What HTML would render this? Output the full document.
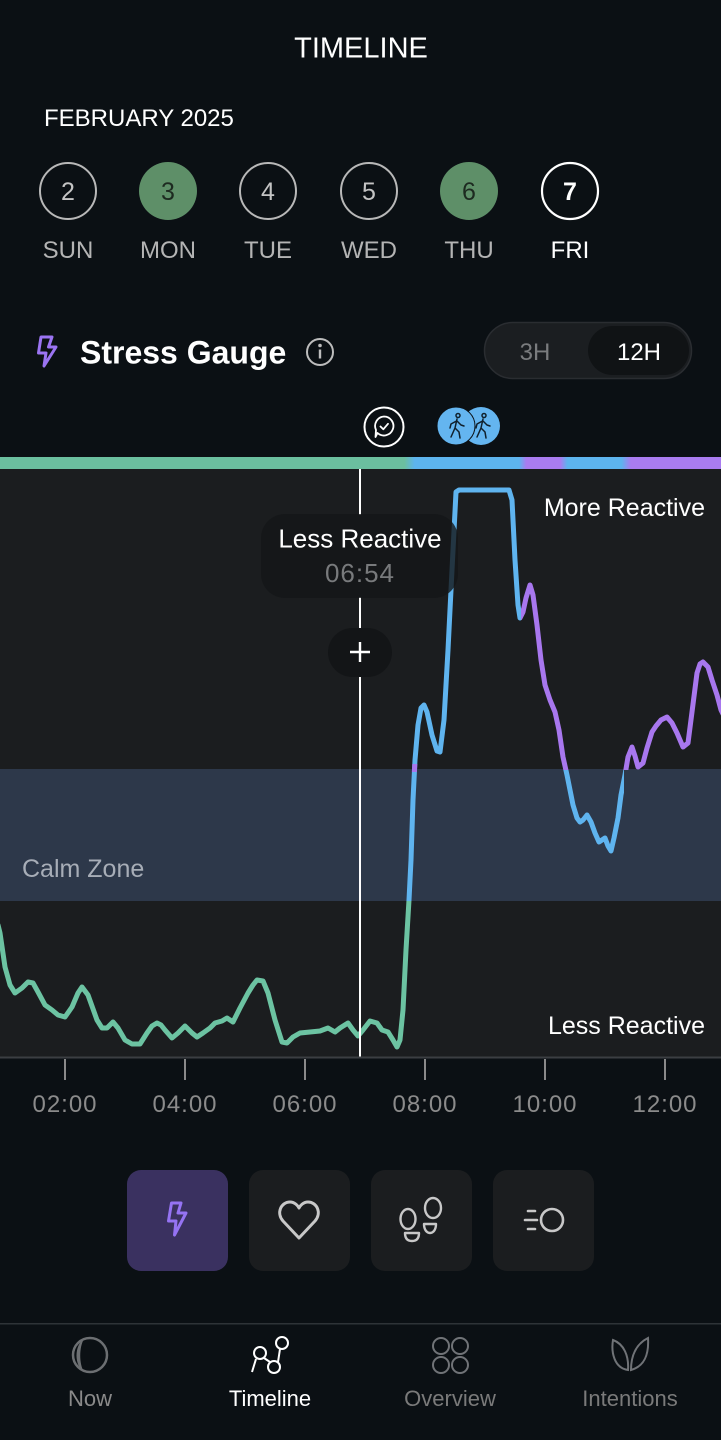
<!DOCTYPE html>
<html><head><meta charset="utf-8"><style>
html,body{margin:0;padding:0;background:#0b1014;}
body{width:721px;height:1440px;overflow:hidden;}
svg{display:block;}
text{font-family:"Liberation Sans",sans-serif;}
</style></head><body>
<svg width="721" height="1440" viewBox="0 0 721 1440" xmlns="http://www.w3.org/2000/svg">
<defs>
<linearGradient id="bar" x1="0" y1="0" x2="721" y2="0" gradientUnits="userSpaceOnUse">
<stop offset="0" stop-color="#6bbf9f"/><stop offset="0.561" stop-color="#6bbf9f"/>
<stop offset="0.575" stop-color="#5db4ee"/><stop offset="0.72" stop-color="#5db4ee"/>
<stop offset="0.73" stop-color="#a97cf0"/><stop offset="0.777" stop-color="#a97cf0"/>
<stop offset="0.787" stop-color="#5db4ee"/><stop offset="0.862" stop-color="#5db4ee"/>
<stop offset="0.875" stop-color="#a97cf0"/><stop offset="1" stop-color="#a97cf0"/>
</linearGradient>
<clipPath id="cg"><rect x="0" y="901" width="721" height="200"/></clipPath>
<clipPath id="cb"><rect x="0" y="0" width="521" height="901"/><rect x="560" y="770" width="64" height="131"/></clipPath>
<clipPath id="cp"><rect x="521" y="0" width="200" height="770"/><rect x="408" y="764" width="10" height="8"/></clipPath>
<path id="ln" d="M-2 925 L0 933 L5 967 L10 985 L15 993 L22 988 L28 982 L33 983 L38 992 L45 1005 L52 1010 L58 1015 L65 1017 L72 1007 L78 993 L82 987 L88 995 L97 1020 L102 1028 L107 1028 L113 1022 L118 1028 L125 1040 L132 1044 L140 1044 L147 1033 L152 1026 L157 1023 L161 1025 L165 1030 L172 1038 L178 1033 L185 1026 L192 1033 L197 1037 L203 1033 L210 1028 L215 1023 L222 1021 L227 1018 L233 1022 L240 1008 L248 993 L253 985 L257 980 L263 981 L268 993 L275 1020 L282 1042 L287 1043 L293 1037 L300 1033 L310 1032 L320 1031 L328 1028 L335 1032 L340 1028 L348 1023 L353 1030 L358 1036 L363 1030 L370 1021 L377 1023 L382 1030 L388 1032 L393 1040 L397 1047 L400 1040 L403 1010 L406 950 L409 900 L411 860 L413 800 L415 760 L418 725 L421 708 L424 705 L427 712 L432 735 L437 751 L440 752 L444 720 L448 650 L452 570 L456 492 L459 490 L509 490 L512 500 L515 560 L518 605 L520 618 L523 612 L526 598 L530 585 L533 595 L537 625 L541 660 L545 685 L550 700 L555 712 L559 730 L563 757 L567 775 L570 790 L573 805 L577 818 L580 822 L583 820 L587 815 L591 822 L595 833 L599 842 L602 840 L605 838 L608 846 L611 851 L614 838 L618 818 L621 795 L625 775 L628 757 L632 747 L635 756 L638 767 L643 763 L647 748 L652 732 L656 726 L661 720 L667 717 L672 723 L677 733 L683 747 L688 743 L692 712 L697 673 L700 664 L703 662 L708 667 L712 680 L717 695 L721 710 L724 716"/>
</defs>

<!-- header -->
<text x="361" y="57.5" font-size="29" fill="#ffffff" text-anchor="middle">TIMELINE</text>
<text x="44" y="126" font-size="24" fill="#ffffff">FEBRUARY 2025</text>

<!-- days -->
<g font-size="25" text-anchor="middle">
<circle cx="68" cy="191" r="28" fill="none" stroke="#b8b8b8" stroke-width="2"/>
<text x="68" y="200" fill="#c4c4c4">2</text>
<circle cx="168" cy="191" r="29" fill="#5e8f68"/>
<text x="168" y="200" fill="#1d2a20">3</text>
<circle cx="268" cy="191" r="28" fill="none" stroke="#b8b8b8" stroke-width="2"/>
<text x="268" y="200" fill="#c4c4c4">4</text>
<circle cx="369" cy="191" r="28" fill="none" stroke="#b8b8b8" stroke-width="2"/>
<text x="369" y="200" fill="#c4c4c4">5</text>
<circle cx="469" cy="191" r="29" fill="#5e8f68"/>
<text x="469" y="200" fill="#1d2a20">6</text>
<circle cx="570" cy="191" r="28" fill="none" stroke="#ffffff" stroke-width="2.2"/>
<text x="570" y="200" fill="#ffffff" font-weight="bold">7</text>
</g>
<g font-size="24" text-anchor="middle">
<text x="68" y="258" fill="#b4b4b4">SUN</text>
<text x="168" y="258" fill="#b4b4b4">MON</text>
<text x="268" y="258" fill="#b4b4b4">TUE</text>
<text x="369" y="258" fill="#b4b4b4">WED</text>
<text x="469" y="258" fill="#b4b4b4">THU</text>
<text x="570" y="258" fill="#ffffff">FRI</text>
</g>

<!-- stress gauge title -->
<path d="M41 337 L52 337 L48.5 347 L56 347 L44 366 L46 353 L38.5 353 Z" fill="none" stroke="#9b74f2" stroke-width="3" stroke-linejoin="round"/>
<text x="80" y="363.5" font-size="32" font-weight="bold" fill="#ffffff">Stress Gauge</text>
<circle cx="320" cy="352" r="13" fill="none" stroke="#bdbdbd" stroke-width="2"/>
<circle cx="320" cy="345.5" r="1.8" fill="#bdbdbd"/>
<rect x="318.8" y="349.5" width="2.4" height="9" fill="#bdbdbd"/>

<!-- toggle -->
<rect x="484.5" y="322.5" width="207" height="56" rx="28" fill="#1b1e21" stroke="#2a2d31" stroke-width="1.5"/>
<rect x="588" y="326" width="101" height="49" rx="24.5" fill="#101315"/>
<text x="535" y="360" font-size="24" fill="#7a7c7e" text-anchor="middle">3H</text>
<text x="639" y="360" font-size="24" fill="#ffffff" text-anchor="middle">12H</text>

<!-- event icons -->
<circle cx="384" cy="427" r="19.5" fill="#0b1014" stroke="#ffffff" stroke-width="2"/>
<path d="M384 416.5 a9.5 9.5 0 1 1 -6.5 16.5 L375.5 437 L376 430 a9.5 9.5 0 0 1 8 -13.5 Z" fill="none" stroke="#ffffff" stroke-width="1.8" stroke-linejoin="round"/>
<path d="M380.5 426.5 L383.3 429.3 L388 423.8" fill="none" stroke="#ffffff" stroke-width="1.8" stroke-linecap="round" stroke-linejoin="round"/>
<circle cx="481" cy="426" r="19" fill="#64b5f0"/>
<circle cx="456" cy="426" r="19" fill="#64b5f0" stroke="#0b1014" stroke-width="1"/>
<g fill="none" stroke="#10202c" stroke-width="1.5" stroke-linecap="round" stroke-linejoin="round">
<circle cx="458" cy="415.5" r="2"/>
<path d="M457 419 L455 428 L459 432 L460 438 M455 428 L451 437 M456.5 421 L451 424 L450 428 M457 421 L461 425 L464 426"/>
<circle cx="484" cy="415.5" r="2"/>
<path d="M483 419 L481 428 L485 432 L486 438 M481 428 L477 437 M482.5 421 L477 424 L476 428 M483 421 L487 425 L490 426"/>
</g>

<!-- color bar -->
<rect x="0" y="457" width="721" height="12" fill="url(#bar)"/>

<!-- chart -->
<rect x="0" y="469" width="721" height="589" fill="#1b1d1f"/>
<rect x="0" y="769" width="721" height="132" fill="#2d384a"/>
<text x="22" y="877" font-size="25" fill="#a7adb7">Calm Zone</text>
<text x="705" y="516" font-size="25" fill="#ffffff" text-anchor="end">More Reactive</text>
<text x="705" y="1034" font-size="25" fill="#ffffff" text-anchor="end">Less Reactive</text>

<g fill="none" stroke-width="5" stroke-linecap="round" stroke-linejoin="round">
<use href="#ln" stroke="#6cc3a2" clip-path="url(#cg)"/>
<use href="#ln" stroke="#5fb4ef" clip-path="url(#cb)"/>
<use href="#ln" stroke="#a877ee" clip-path="url(#cp)"/>
</g>

<!-- cursor -->
<rect x="359" y="469" width="2" height="46" fill="#ffffff"/>
<rect x="359" y="597" width="2" height="32" fill="#ffffff"/>
<rect x="359" y="676" width="2" height="382" fill="#ffffff"/>
<rect x="261" y="514" width="197" height="84" rx="24" fill="rgba(20,22,24,0.8)"/>
<text x="360" y="547.5" font-size="26" fill="#ffffff" text-anchor="middle">Less Reactive</text>
<text x="360" y="582" font-size="26" fill="#787a7c" text-anchor="middle" letter-spacing="1">06:54</text>
<rect x="328" y="628" width="64" height="49" rx="24.5" fill="#131517"/>
<path d="M360 642 V662 M350 652 H370" stroke="#ffffff" stroke-width="2.4"/>

<!-- axis -->
<rect x="0" y="1056.5" width="721" height="2" fill="#3b3e42"/>
<g fill="#8a8a8a">
<rect x="64" y="1059" width="2" height="21"/>
<rect x="184" y="1059" width="2" height="21"/>
<rect x="304" y="1059" width="2" height="21"/>
<rect x="424" y="1059" width="2" height="21"/>
<rect x="544" y="1059" width="2" height="21"/>
<rect x="664" y="1059" width="2" height="21"/>
</g>
<g font-size="24" fill="#8b8b8b" text-anchor="middle" letter-spacing="1">
<text x="65" y="1112">02:00</text>
<text x="185" y="1112">04:00</text>
<text x="305" y="1112">06:00</text>
<text x="425" y="1112">08:00</text>
<text x="545" y="1112">10:00</text>
<text x="665" y="1112">12:00</text>
</g>

<!-- metric buttons -->
<rect x="127" y="1170" width="101" height="101" rx="14" fill="#3a3160"/>
<rect x="249" y="1170" width="101" height="101" rx="14" fill="#1b1d1f"/>
<rect x="371" y="1170" width="101" height="101" rx="14" fill="#1b1d1f"/>
<rect x="493" y="1170" width="101" height="101" rx="14" fill="#1b1d1f"/>
<path d="M171.5 1203 L181 1203 L178 1213 L186 1213 L174.5 1235 L176 1221 L168.5 1221 Z" fill="none" stroke="#9573f3" stroke-width="3" stroke-linejoin="round"/>
<path d="M299 1238 L283 1221 C276 1213 281 1202 290 1202 C295 1202 298 1206 299 1208 C300 1206 303 1202 308 1202 C317 1202 322 1213 315 1221 Z" fill="none" stroke="#c8c8c8" stroke-width="3" stroke-linejoin="round"/>
<g fill="none" stroke="#c8c8c8" stroke-width="2.4" stroke-linejoin="round">
<ellipse cx="408" cy="1219" rx="7.5" ry="10"/>
<path d="M405 1233 H419 C419 1239 416 1241 412 1241 C408 1241 405 1239 405 1233 Z"/>
<ellipse cx="433" cy="1208" rx="8" ry="10"/>
<path d="M424 1224 H436 C436 1230 433 1233 430 1233 C427 1233 424 1230 424 1224 Z"/>
</g>
<g fill="none" stroke="#c8c8c8" stroke-width="2.6" stroke-linecap="round">
<circle cx="552" cy="1220" r="11"/>
<path d="M528 1211 H535 M525 1220 H537 M528 1229 H535"/>
</g>

<!-- nav -->
<rect x="0" y="1323" width="721" height="1.5" fill="#2e3337"/>
<ellipse cx="90" cy="1355" rx="17" ry="17" fill="none" stroke="#6c6f72" stroke-width="2.5"/>
<path d="M84 1339 C 74 1345 74 1366 84 1372 C 79 1364 79 1347 84 1339 Z" fill="#6c6f72"/>
<g fill="none" stroke="#ffffff" stroke-width="2">
<circle cx="260" cy="1353" r="6"/>
<circle cx="274" cy="1367" r="6"/>
<circle cx="282" cy="1343" r="6"/>
<path d="M256 1359 L252 1372 M264 1358 L270 1362 M278 1362 L280 1349"/>
</g>
<g fill="none" stroke="#707377" stroke-width="2">
<circle cx="441" cy="1346" r="8"/><circle cx="460" cy="1346" r="8"/>
<circle cx="441" cy="1365" r="8"/><circle cx="460" cy="1365" r="8"/>
<path d="M628 1370 C 614 1368 611 1352 613 1340 C 624 1344 629 1356 628 1370 Z M631 1370 C 645 1366 649 1354 648 1338 C 636 1344 631 1356 631 1370 Z"/>
</g>
<g font-size="22" text-anchor="middle">
<text x="90" y="1406" fill="#8a8a8a">Now</text>
<text x="270" y="1406" fill="#ffffff">Timeline</text>
<text x="450" y="1406" fill="#7a7a7a">Overview</text>
<text x="630" y="1406" fill="#7a7a7a">Intentions</text>
</g>
</svg>
</body></html>
